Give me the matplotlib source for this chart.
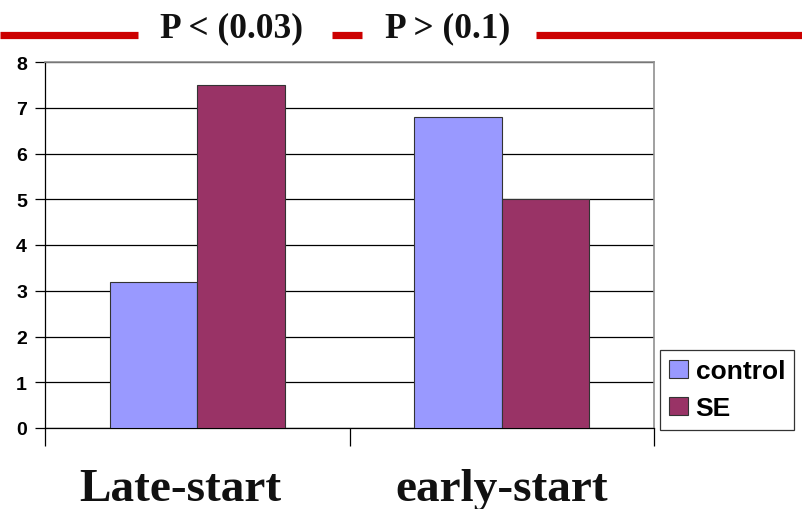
import numpy as np
import matplotlib
matplotlib.use('Agg')
import matplotlib.pyplot as plt
from matplotlib.lines import Line2D
from matplotlib.transforms import ScaledTranslation

# Data
groups = ['Late-start', 'early-start']
series = ['control', 'SE']
control = [3.2, 6.8]
se = [7.5, 5.0]
p_labels = ['P < (0.03)', 'P > (0.1)']

colors = ['#9999FF', '#993366']

fig = plt.figure(figsize=(8.02, 5.10), dpi=100)
fig.patch.set_facecolor('white')
ax = fig.add_axes([45 / 802, 1 - 429 / 510, 609 / 802, 366 / 510])

x = np.arange(len(groups))
w = 0.287
ax.bar(x - w / 2, control, w, color=colors[0], edgecolor='#333333', linewidth=0.8,
       label=series[0], zorder=3)
ax.bar(x + w / 2, se, w, color=colors[1], edgecolor='#333333', linewidth=0.8,
       label=series[1], zorder=3)

ax.set_xlim(-0.5, len(groups) - 0.5)
ax.set_ylim(0, 8)
ax.set_yticks(range(0, 9))
ax.yaxis.grid(True, color='black', linewidth=0.9, zorder=0)
ax.set_axisbelow(True)

# category labels centred, tick marks between categories
ax.set_xticks(x)
ax.set_xticklabels(groups, fontfamily='Liberation Serif', fontweight='bold',
                   fontsize=34, color='#111111')
ax.tick_params(axis='x', which='major', length=0, pad=29)
ax.set_xticks(np.arange(-0.5, len(groups), 1.0), minor=True)
ax.tick_params(axis='x', which='minor', length=13, width=0.9, color='black')
ax.tick_params(axis='y', length=7, width=0.9, pad=6)
for lab in ax.get_yticklabels():
    lab.set_fontfamily('Liberation Sans')
    lab.set_fontweight('bold')
    lab.set_fontsize(14)
first = ax.get_xticklabels()[0]
first.set_transform(first.get_transform() + ScaledTranslation(-0.17, 0, fig.dpi_scale_trans))

for s in ['left', 'bottom']:
    ax.spines[s].set_color('black')
    ax.spines[s].set_linewidth(0.9)
for s in ['top', 'right']:
    ax.spines[s].set_color('#909090')
    ax.spines[s].set_linewidth(1.2)
ax.spines['left'].set_bounds(0, 8)

leg = ax.legend(loc='upper left', bbox_to_anchor=(660 / 802, 1 - 351 / 510),
                bbox_transform=fig.transFigure, frameon=True, fancybox=False,
                prop={'family': 'Liberation Sans', 'weight': 'bold', 'size': 19},
                handlelength=0.7, handleheight=0.7, handletextpad=0.3,
                labelspacing=0.5, borderpad=0.35, borderaxespad=0)
leg.get_frame().set_edgecolor('black')
leg.get_frame().set_linewidth(0.9)

# red rule with the p-values
red = '#CC0000'
for x0, x1 in [(0, 138), (332, 362), (536, 802)]:
    fig.add_artist(Line2D([x0 / 802, x1 / 802], [1 - 36 / 510, 1 - 36 / 510],
                          color=red, linewidth=5.2, solid_capstyle='butt'))
for xc, t in zip([231, 448], p_labels):
    fig.text(xc / 802, 1 - 37 / 510, t, ha='center', va='baseline',
             fontfamily='Liberation Serif', fontweight='bold', fontsize=25.5,
             color='#111111')

fig.savefig('out.png', dpi=100)
